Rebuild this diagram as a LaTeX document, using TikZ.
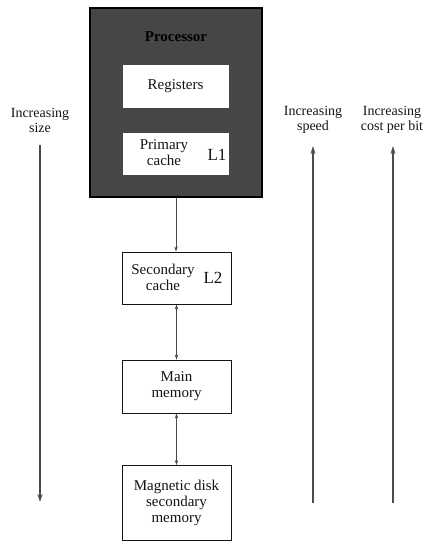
\documentclass[tikz,border=0pt]{standalone}
\usepackage{fontspec}
\setmainfont{Liberation Serif}
\usetikzlibrary{arrows.meta}
\definecolor{inkc}{RGB}{20,20,20}
\definecolor{chip}{RGB}{70,70,70}
\definecolor{linec}{RGB}{75,75,75}
\begin{document}
\begin{tikzpicture}[x=1pt,y=-1pt,
  every node/.style={text=inkc},
  boxtxt/.style={font=\fontsize{15}{16}\selectfont, align=center},
  sidetxt/.style={font=\fontsize{14}{15}\selectfont, align=center},
  levelbox/.style={draw=inkc, line width=0.9pt, fill=white, inner sep=0pt},
  conn/.style={draw=linec, line width=0.7pt, {Stealth[length=5pt,width=3.5pt]}-{Stealth[length=5pt,width=3.5pt]}},
  downconn/.style={draw=linec, line width=0.7pt, -{Stealth[length=5pt,width=3.5pt]}},
  trend/.style={draw=linec, line width=1.2pt, -{Stealth[length=8pt,width=5pt]}}]
\useasboundingbox (0,0) rectangle (427,542);

% processor chip with its on-chip levels
\node[draw=black, line width=1.2pt, fill=chip, minimum width=172pt, minimum height=189pt, inner sep=0pt] (proc) at (176,102.5) {};
\node[font=\fontsize{15}{16}\selectfont\bfseries, text=black] (proclbl) at (176,37) {Processor};
\node[levelbox, draw=white, minimum width=105pt, minimum height=42pt] (reg) at (175.5,86) {};
\node[boxtxt] (regtxt) at (reg) {Registers};
\node[levelbox, draw=white, minimum width=105pt, minimum height=41pt] (l1) at (175.5,153.5) {};
\node[boxtxt] (l1txt) at (164,153) {Primary\\cache};
\node[font=\fontsize{17}{18}\selectfont] (l1tag) at (217,155) {L1};

% off-chip levels
\node[levelbox, minimum width=109pt, minimum height=52pt] (sec) at (176.5,278) {};
\node[boxtxt] (sectxt) at (163,277) {Secondary\\cache};
\node[font=\fontsize{17}{18}\selectfont] (l2tag) at (213,278) {L2};
\node[levelbox, minimum width=109pt, minimum height=53pt] (mainm) at (176.5,386.5) {};
\node[boxtxt] (maintxt) at (mainm) {Main\\memory};
\node[levelbox, minimum width=109pt, minimum height=75pt] (disk) at (176.5,503) {};
\node[boxtxt] (disktxt) at (176.5,503) {Magnetic disk\\secondary\\memory};

% links between levels
\draw[downconn] (proc.south) -- (proc.south |- sec.north);
\draw[conn] (sec.south) -- (sec.south |- mainm.north);
\draw[conn] (mainm.south) -- (mainm.south |- disk.north);

% trend arrows
\node[sidetxt] (sizelbl) at (40,120) {Increasing\\size};
\node[sidetxt] (speedlbl) at (313,120) {Increasing\\speed};
\node[sidetxt] (costlbl) at (392,120) {Increasing\\cost per bit};
\coordinate (sizeA) at (40,145);
\coordinate (sizeB) at (40,502);
\coordinate (speedA) at (313,503);
\coordinate (speedB) at (313,146);
\coordinate (costA) at (393,503);
\coordinate (costB) at (393,146);
\draw[trend] (sizeA) -- (sizeB);
\draw[trend] (speedA) -- (speedB);
\draw[trend] (costA) -- (costB);
\end{tikzpicture}
\end{document}
